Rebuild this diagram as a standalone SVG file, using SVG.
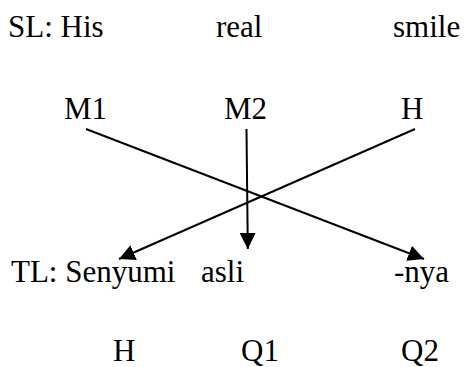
<svg xmlns="http://www.w3.org/2000/svg" width="465" height="367" viewBox="0 0 465 367">
<defs>
<marker id="ah" markerUnits="userSpaceOnUse" markerWidth="16" markerHeight="16" viewBox="0 0 16 16" refX="16" refY="8" orient="auto">
<path d="M0,0 L16,8 L0,16 Z" fill="#000"/>
</marker>
</defs>
<rect width="465" height="367" fill="#fff"/>
<g fill="#000">
<g id="sl-his"><text x="8" y="37" font-family="Liberation Serif" font-size="31">SL: His</text></g>
<g id="sl-real"><text x="216" y="37" font-family="Liberation Serif" font-size="31">real</text></g>
<g id="sl-smile"><text x="393" y="37" font-family="Liberation Serif" font-size="31">smile</text></g>
<g id="m1"><text x="64" y="119" font-family="Liberation Serif" font-size="31">M1</text></g>
<g id="m2"><text x="224" y="119" font-family="Liberation Serif" font-size="31">M2</text></g>
<g id="h-top"><text x="401" y="119" font-family="Liberation Serif" font-size="31">H</text></g>
<g id="tl-senyumi"><text x="11" y="282" font-family="Liberation Serif" font-size="31">TL: Senyumi</text></g>
<g id="tl-asli"><text x="201" y="282" font-family="Liberation Serif" font-size="31">asli</text></g>
<g id="tl-nya"><text x="394" y="282" font-family="Liberation Serif" font-size="31">-nya</text></g>
<g id="h-bottom"><text x="113" y="361" font-family="Liberation Serif" font-size="31">H</text></g>
<g id="q1"><text x="241" y="361" font-family="Liberation Serif" font-size="31">Q1</text></g>
<g id="q2"><text x="401" y="361" font-family="Liberation Serif" font-size="31">Q2</text></g>
</g>
<g id="connectors" stroke="#000" stroke-width="2" fill="none" marker-end="url(#ah)">
<line x1="86" y1="129" x2="424" y2="259"/>
<line x1="246.5" y1="129" x2="247.8" y2="249"/>
<line x1="415" y1="129" x2="119" y2="259"/>
</g>
</svg>
